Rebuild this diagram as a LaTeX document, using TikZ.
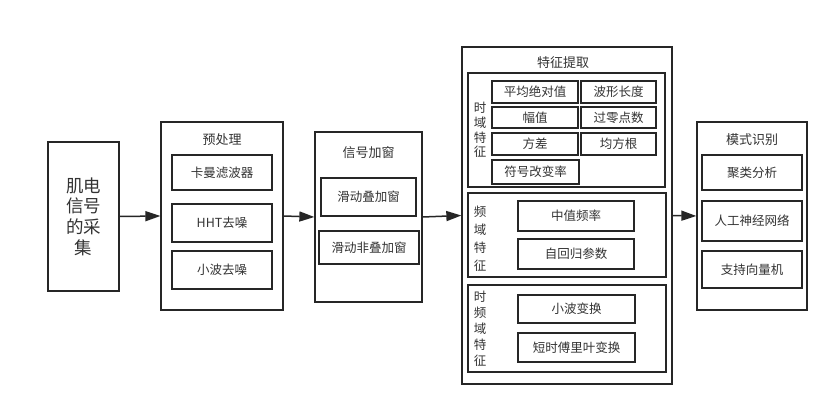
\documentclass[tikz,border=0pt]{standalone}
\usepackage{fontspec}
\setmainfont{Noto Sans CJK SC}
\usetikzlibrary{arrows.meta}
\tikzset{
  box/.style={draw=black!85, line width=1.3pt, inner sep=0pt, text=black!80,
    font=\fontsize{12.5}{15}\selectfont},
  frame/.style={draw=black!85, line width=1.3pt, inner sep=0pt},
  title/.style={text=black!80, font=\fontsize{13}{15}\selectfont},
  side/.style={text=black!80, align=center, inner sep=0pt},
  arr/.style={draw=black!85, line width=1.5pt, -{Triangle[length=15pt,width=10pt]}}
}
\begin{document}
\begin{tikzpicture}[x=1pt, y=-1pt]
\useasboundingbox[fill=white] (0,0) rectangle (838,417);
% acquisition
\node[box, minimum width=71, minimum height=149, align=center,
  font=\fontsize{17.5}{20.7}\selectfont] (emg) at (83.5,216.5)
  {肌电\\信号\\的采\\集};
% preprocessing
\node[frame, minimum width=122, minimum height=188] (pre) at (222,216) {};
\node[title] (pretitle) at (222,140) {预处理};
\node[box, minimum width=100, minimum height=35] (kalman) at (222,172.5) {卡曼滤波器};
\node[box, minimum width=100, minimum height=38] (hht) at (222,223) {HHT去噪};
\node[box, minimum width=100, minimum height=38] (wavden) at (222,270) {小波去噪};
% windowing
\node[frame, minimum width=107, minimum height=170] (win) at (368.5,217) {};
\node[title] (wintitle) at (368.5,153) {信号加窗};
\node[box, minimum width=95, minimum height=38] (overlap) at (368.5,197) {滑动叠加窗};
\node[box, minimum width=100, minimum height=33] (disjoint) at (369,247.5) {滑动非叠加窗};
% feature extraction
\node[frame, minimum width=210, minimum height=337] (feat) at (567,215.5) {};
\node[title] (feattitle) at (563,63) {特征提取};
\node[frame, minimum width=197, minimum height=114] (td) at (566.5,130) {};
\node[side, font=\fontsize{12.5}{14.7}\selectfont] (tdlabel) at (480,130) {时\\域\\特\\征};
\node[box, minimum width=86, minimum height=22] (mav) at (535,92) {平均绝对值};
\node[box, minimum width=75, minimum height=22] (wl) at (618.5,92) {波形长度};
\node[box, minimum width=86, minimum height=21] (amp) at (535,117.5) {幅值};
\node[box, minimum width=75, minimum height=21] (zc) at (618.5,117.5) {过零点数};
\node[box, minimum width=86, minimum height=22] (var) at (535,144) {方差};
\node[box, minimum width=75, minimum height=22] (rms) at (618.5,144) {均方根};
\node[box, minimum width=87, minimum height=24] (ssc) at (535.5,172) {符号改变率};
\node[frame, minimum width=198, minimum height=84] (fd) at (567,235) {};
\node[side, font=\fontsize{12.5}{18}\selectfont] (fdlabel) at (480,239) {频\\域\\特\\征};
\node[box, minimum width=116, minimum height=30] (mdf) at (576,216) {中值频率};
\node[box, minimum width=116, minimum height=30] (ar) at (576,254) {自回归参数};
\node[frame, minimum width=198, minimum height=87] (tfd) at (567,328.5) {};
\node[side, font=\fontsize{12.5}{16}\selectfont] (tfdlabel) at (480,329) {时\\频\\域\\特\\征};
\node[box, minimum width=117, minimum height=28] (wt) at (576.5,309) {小波变换};
\node[box, minimum width=117, minimum height=29] (stft) at (576.5,347.5) {短时傅里叶变换};
% pattern recognition
\node[frame, minimum width=110, minimum height=188] (mode) at (752,216) {};
\node[title] (modetitle) at (752,140) {模式识别};
\node[box, minimum width=100, minimum height=35] (cluster) at (752,172.5) {聚类分析};
\node[box, minimum width=100, minimum height=40] (ann) at (752,221) {人工神经网络};
\node[box, minimum width=100, minimum height=37] (svm) at (752,269.5) {支持向量机};
% flow
\draw[arr] (emg.east) -- (pre.west);
\draw[arr] (pre.east) -- (win.west);
\draw[arr] (win.east) -- (feat.west);
\draw[arr] (feat.east) -- (mode.west);
\end{tikzpicture}
\end{document}
